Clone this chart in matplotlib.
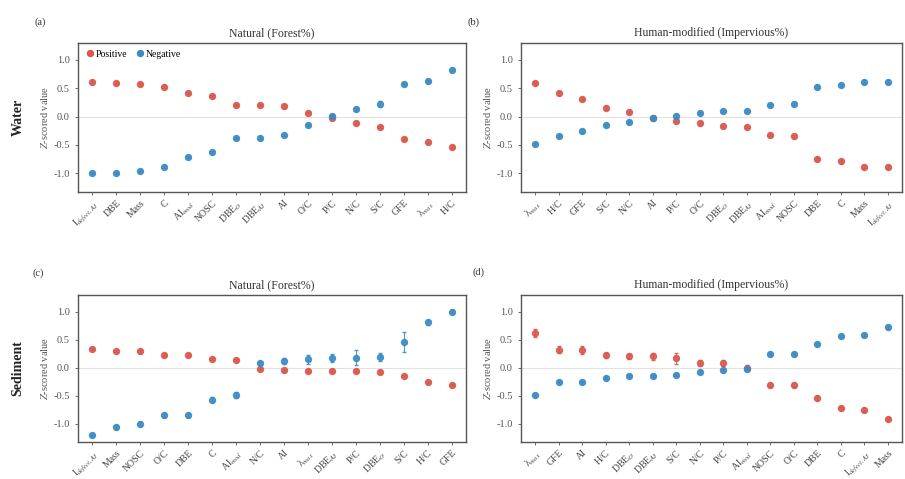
import matplotlib
matplotlib.use("Agg")
import matplotlib.pyplot as plt
from matplotlib.lines import Line2D
import numpy as np

plt.rcParams['font.family'] = ['Liberation Serif', 'DejaVu Serif']
plt.rcParams['mathtext.fontset'] = 'stix'

# ---------------- data ----------------
cats_a = ["I$_{defect,AI}$", "DBE", "Mass", "C", "AI$_{mod}$", "NOSC", "DBE$_O$", "DBE$_{AI}$",
          "AI", "O/C", "P/C", "N/C", "S/C", "GFE", "λ$_{max}$", "H/C"]
pos_a = [0.62, 0.60, 0.57, 0.53, 0.42, 0.36, 0.21, 0.21, 0.18, 0.06, -0.03, -0.11, -0.18, -0.40, -0.44, -0.54]
neg_a = [-1.00, -0.99, -0.96, -0.88, -0.71, -0.62, -0.38, -0.37, -0.32, -0.15, 0.02, 0.13, 0.22, 0.58, 0.63, 0.82]
perr_a = [0.02] * 16
nerr_a = [0.02, 0.02, 0.02, 0.02, 0.02, 0.02, 0.02, 0.02, 0.02, 0.02, 0.02, 0.03, 0.05, 0.02, 0.02, 0.02]

cats_b = ["λ$_{max}$", "H/C", "GFE", "S/C", "N/C", "AI", "P/C", "O/C", "DBE$_O$", "DBE$_{AI}$",
          "AI$_{mod}$", "NOSC", "DBE", "C", "Mass", "I$_{defect,AI}$"]
pos_b = [0.60, 0.41, 0.31, 0.16, 0.09, -0.02, -0.07, -0.12, -0.17, -0.18, -0.33, -0.35, -0.75, -0.79, -0.88, -0.88]
neg_b = [-0.48, -0.34, -0.26, -0.15, -0.10, -0.02, 0.02, 0.06, 0.10, 0.10, 0.21, 0.23, 0.53, 0.56, 0.62, 0.62]
perr_b = [0.02] * 16
nerr_b = [0.02] * 16

cats_c = ["I$_{defect,AI}$", "Mass", "NOSC", "O/C", "DBE", "C", "AI$_{mod}$", "N/C", "AI", "λ$_{max}$",
          "DBE$_{AI}$", "P/C", "DBE$_O$", "S/C", "H/C", "GFE"]
pos_c = [0.33, 0.30, 0.29, 0.23, 0.23, 0.16, 0.14, -0.02, -0.05, -0.06, -0.06, -0.06, -0.07, -0.15, -0.25, -0.31]
neg_c = [-1.20, -1.07, -1.01, -0.85, -0.85, -0.57, -0.49, 0.08, 0.12, 0.15, 0.17, 0.18, 0.19, 0.46, 0.81, 1.00]
perr_c = [0.02] * 16
nerr_c = [0.02, 0.02, 0.03, 0.04, 0.04, 0.05, 0.05, 0.03, 0.06, 0.08, 0.07, 0.14, 0.07, 0.18, 0.04, 0.03]

cats_d = ["λ$_{max}$", "GFE", "AI", "H/C", "DBE$_O$", "DBE$_{AI}$", "S/C", "N/C", "P/C", "AI$_{mod}$",
          "NOSC", "O/C", "DBE", "C", "I$_{defect,AI}$", "Mass"]
pos_d = [0.62, 0.32, 0.31, 0.22, 0.20, 0.20, 0.17, 0.08, 0.08, 0.00, -0.31, -0.31, -0.54, -0.73, -0.75, -0.92]
neg_d = [-0.49, -0.25, -0.25, -0.18, -0.15, -0.15, -0.13, -0.07, -0.05, -0.02, 0.25, 0.25, 0.43, 0.57, 0.59, 0.72]
perr_d = [0.07, 0.06, 0.07, 0.05, 0.05, 0.06, 0.10, 0.05, 0.05, 0.04, 0.04, 0.04, 0.04, 0.03, 0.02, 0.02]
nerr_d = [0.02] * 16

panels = [
    ("(a)", "Natural (Forest%)", cats_a, pos_a, neg_a, perr_a, nerr_a),
    ("(b)", "Human-modified (Impervious%)", cats_b, pos_b, neg_b, perr_b, nerr_b),
    ("(c)", "Natural (Forest%)", cats_c, pos_c, neg_c, perr_c, nerr_c),
    ("(d)", "Human-modified (Impervious%)", cats_d, pos_d, neg_d, perr_d, nerr_d),
]

RED = "#d9584f"
BLUE = "#3b8cc4"
W, H = 905, 479

fig = plt.figure(figsize=(W / 100, H / 100), dpi=100)

boxes = [(78, 466, 43, 192), (521, 902, 43, 192), (78, 466, 295, 442), (521, 902, 295, 442)]
letter_pos = [(40, 22), (473, 22), (38, 273), (478, 272)]

for i, (letter, title, cats, pos, neg, perr, nerr) in enumerate(panels):
    l, r, t, b = boxes[i]
    ax = fig.add_axes([l / W, 1 - b / H, (r - l) / W, (b - t) / H])
    x = np.arange(len(cats))
    ax.axhline(0, color="#e2e2e2", lw=0.8, zorder=0)
    ax.errorbar(x, pos, yerr=perr, fmt='o', color=RED, ms=4.3, ecolor=RED, elinewidth=0.8,
                capsize=1.5, alpha=0.9, zorder=3)
    ax.errorbar(x, neg, yerr=nerr, fmt='o', color=BLUE, ms=4.3, ecolor=BLUE, elinewidth=0.8,
                capsize=1.5, alpha=0.9, zorder=3)
    ax.set_xlim(-0.6, 15.6)
    ax.set_ylim(-1.33, 1.3)
    ax.set_yticks([-1.0, -0.5, 0.0, 0.5, 1.0])
    ax.set_yticklabels(["-1.0", "-0.5", "0.0", "0.5", "1.0"])
    ax.set_xticks(x)
    ax.set_xticklabels(cats, rotation=45, ha='right', rotation_mode='anchor', fontsize=7)
    ax.tick_params(axis='y', labelsize=7.5, colors="#555555", length=2.5, width=0.6)
    ax.tick_params(axis='x', length=2.5, width=0.6, colors="#555555", pad=2)
    for lab in ax.get_xticklabels():
        lab.set_color("#444444")
    for sp in ax.spines.values():
        sp.set_color("#555555")
        sp.set_linewidth(1.0)
    ax.set_title(title, fontsize=8.5, color="#333333", pad=5)
    ax.set_ylabel("$Z$-scored value", fontsize=7.5, color="#555555", labelpad=2)
    fig.text(letter_pos[i][0] / W, 1 - letter_pos[i][1] / H, letter, fontsize=7.5,
             ha='center', va='center', color="#333333")
    if i == 0:
        handles = [Line2D([], [], ls='none', marker='o', color=RED, ms=4.3, label="Positive"),
                   Line2D([], [], ls='none', marker='o', color=BLUE, ms=4.3, label="Negative")]
        ax.legend(handles=handles, loc='upper left', ncol=2, frameon=False, fontsize=7,
                  handletextpad=0.1, columnspacing=0.8, borderaxespad=0.3, handlelength=1.0)

fig.text(18 / W, 1 - 117 / H, "Water", rotation=90, fontsize=10, fontweight='bold',
         ha='center', va='center', color="#222222")
fig.text(18 / W, 1 - 368 / H, "Sediment", rotation=90, fontsize=10, fontweight='bold',
         ha='center', va='center', color="#222222")

fig.savefig("out.png", dpi=100)
